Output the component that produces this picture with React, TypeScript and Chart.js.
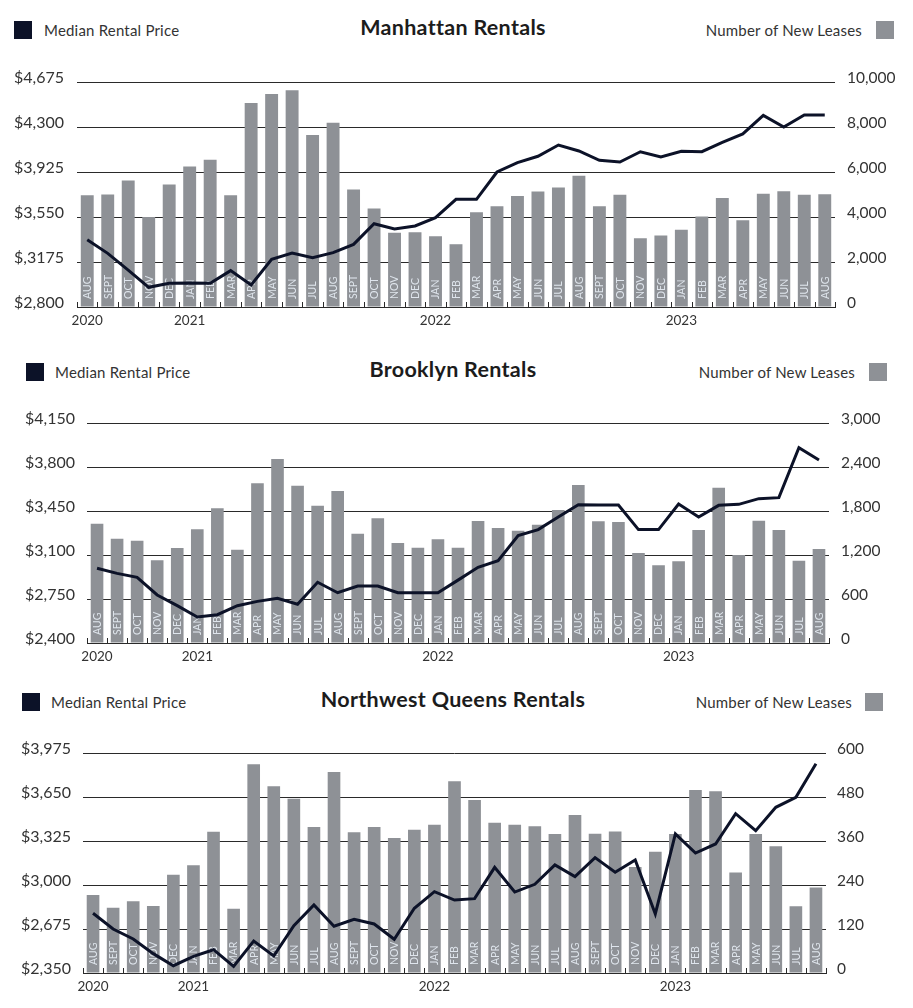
import React, { useEffect, useRef } from 'react';
import { Chart, registerables } from 'chart.js';

Chart.register(...registerables);

const FONT = 'Lato, "Noto Sans", sans-serif';
const BAR_COLOR = '#8e9196';
const LINE_COLOR = '#0c1228';
const GRID_COLOR = '#2a2a2a';
const TEXT_COLOR = '#333333';
const MONTH_COLOR = 'rgba(228,234,241,0.95)';
const PAGE_W = 913;

// ---------- shared categories ----------
const months = [
  'AUG', 'SEPT', 'OCT', 'NOV', 'DEC',
  'JAN', 'FEB', 'MAR', 'APR', 'MAY', 'JUN', 'JUL', 'AUG', 'SEPT', 'OCT', 'NOV', 'DEC',
  'JAN', 'FEB', 'MAR', 'APR', 'MAY', 'JUN', 'JUL', 'AUG', 'SEPT', 'OCT', 'NOV', 'DEC',
  'JAN', 'FEB', 'MAR', 'APR', 'MAY', 'JUN', 'JUL', 'AUG',
];
const yearTicks = ['2020', '2021', '2022', '2023'];
const yearTickIndex = [0, 5, 17, 29];

// ---------- Manhattan ----------
const manhattanLeases = [
  4970, 5000, 5620, 4000, 5450, 6250, 6540, 4970, 9070, 9470, 9630, 7640, 8190,
  5220, 4380, 3300, 3320, 3150, 2790, 4210, 4480, 4930, 5130, 5310, 5830, 4480,
  4990, 3060, 3180, 3430, 4020, 4850, 3860, 5030, 5150, 4990, 5010,
];
const manhattanPrice = [
  3360, 3247, 3108, 2964, 2997, 3000, 2997, 3103, 2983, 3197, 3250, 3211, 3253,
  3322, 3494, 3450, 3475, 3544, 3697, 3697, 3925, 4003, 4056, 4150, 4100, 4022,
  4008, 4094, 4050, 4097, 4094, 4172, 4242, 4397, 4300, 4400, 4400,
];
const manhattanPriceTicks = ['$2,800', '$,3175', '$3,550', '$3,925', '$4,300', '$4,675'];
const manhattanLeaseTicks = ['0', '2,000', '4,000', '6,000', '8,000', '10,000'];

// ---------- Brooklyn ----------
const brooklynLeases = [
  1627, 1423, 1395, 1127, 1295, 1550, 1836, 1273, 2177, 2509, 2145, 1873, 2073,
  1491, 1700, 1364, 1300, 1414, 1300, 1664, 1568, 1532, 1614, 1814, 2155, 1659,
  1650, 1227, 1059, 1114, 1541, 2118, 1200, 1668, 1541, 1123, 1282,
];
const brooklynPrice = [
  2994, 2954, 2922, 2782, 2697, 2607, 2625, 2697, 2731, 2755, 2708, 2883, 2800,
  2853, 2853, 2800, 2800, 2800, 2900, 3002, 3055, 3254, 3302, 3402, 3500, 3497,
  3497, 3302, 3302, 3505, 3402, 3495, 3503, 3548, 3556, 3954, 3856,
];
const brooklynPriceTicks = ['$2,400', '$2,750', '$3,100', '$3,450', '$3,800', '$4,150'];
const brooklynLeaseTicks = ['0', '600', '1,200', '1,800', '2,400', '3,000'];

// ---------- Northwest Queens ----------
const queensLeases = [
  213, 178, 196, 183, 268, 294, 385, 175, 569, 509, 475, 398, 548,
  384, 398, 368, 391, 404, 523, 472, 410, 404, 400, 379, 431, 380,
  386, 289, 331, 379, 499, 496, 274, 379, 346, 182, 233,
];
const queensPrice = [
  2791, 2675, 2601, 2493, 2404, 2473, 2522, 2399, 2586, 2476, 2700, 2852, 2695,
  2746, 2712, 2599, 2828, 2951, 2889, 2899, 3130, 2948, 3005, 3148, 3062, 3202,
  3094, 3185, 2786, 3377, 3236, 3303, 3527, 3401, 3574, 3648, 3896,
];
const queensPriceTicks = ['$2,350', '$2,675', '$3,000', '$3,325', '$3,650', '$3,975'];
const queensLeaseTicks = ['0', '120', '240', '360', '480', '600'];

type Cfg = {
  title: string;
  leases: number[];
  price: number[];
  priceMin: number;
  priceMax: number;
  priceStep: number;
  priceTicks: string[];
  leaseMax: number;
  leaseStep: number;
  leaseTicks: string[];
  canvasTop: number;
  canvasH: number;
  plotTop: number;
  plotBottom: number;
  plotLeft: number;
  plotRight: number;
  leftGap: number;
  rightGap: number;
  squareY: number;
  leftSquareX: number;
  leftTextX: number;
  rightTextEnd: number;
  rightSquareX: number;
};

const charts: Cfg[] = [
  {
    title: 'Manhattan Rentals',
    leases: manhattanLeases, price: manhattanPrice,
    priceMin: 2800, priceMax: 4675, priceStep: 375, priceTicks: manhattanPriceTicks,
    leaseMax: 10000, leaseStep: 2000, leaseTicks: manhattanLeaseTicks,
    canvasTop: 50, canvasH: 290, plotTop: 82, plotBottom: 307, plotLeft: 77, plotRight: 835,
    leftGap: 13, rightGap: 12,
    squareY: 21, leftSquareX: 14, leftTextX: 44, rightTextEnd: 862, rightSquareX: 876,
  },
  {
    title: 'Brooklyn Rentals',
    leases: brooklynLeases, price: brooklynPrice,
    priceMin: 2400, priceMax: 4150, priceStep: 350, priceTicks: brooklynPriceTicks,
    leaseMax: 3000, leaseStep: 600, leaseTicks: brooklynLeaseTicks,
    canvasTop: 395, canvasH: 275, plotTop: 423, plotBottom: 643, plotLeft: 87, plotRight: 829,
    leftGap: 12, rightGap: 12,
    squareY: 363, leftSquareX: 26, leftTextX: 55, rightTextEnd: 855, rightSquareX: 869,
  },
  {
    title: 'Northwest Queens Rentals',
    leases: queensLeases, price: queensPrice,
    priceMin: 2350, priceMax: 3975, priceStep: 325, priceTicks: queensPriceTicks,
    leaseMax: 600, leaseStep: 120, leaseTicks: queensLeaseTicks,
    canvasTop: 725, canvasH: 283, plotTop: 753, plotBottom: 973, plotLeft: 83, plotRight: 826,
    leftGap: 12, rightGap: 11,
    squareY: 693, leftSquareX: 22, leftTextX: 51, rightTextEnd: 852, rightSquareX: 865,
  },
];

function yearFor(i: number): string {
  const k = yearTickIndex.indexOf(i);
  return k >= 0 ? yearTicks[k] : '';
}

function ComboChart({ cfg }: { cfg: Cfg }) {
  const ref = useRef<HTMLCanvasElement>(null);

  useEffect(() => {
    if (!ref.current) return;

    const monthLabels = {
      id: 'monthLabels',
      afterDatasetDraw(chart: any, args: any) {
        if (args.index !== 0) return;
        const ctx = chart.ctx;
        const bottom = chart.chartArea.bottom;
        ctx.save();
        ctx.fillStyle = MONTH_COLOR;
        ctx.font = `10.5px ${FONT}`;
        ctx.textAlign = 'left';
        ctx.textBaseline = 'middle';
        args.meta.data.forEach((bar: any, i: number) => {
          ctx.save();
          ctx.translate(bar.x, bottom - 8);
          ctx.rotate(-Math.PI / 2);
          ctx.fillText(String(chart.data.labels[i]), 0, 0.5);
          ctx.restore();
        });
        ctx.restore();
      },
    };

    const upTicks = {
      id: 'upTicks',
      afterDraw(chart: any) {
        const xs = chart.scales.x;
        const n = chart.data.labels.length;
        const step = xs.getPixelForValue(1) - xs.getPixelForValue(0);
        const start = xs.getPixelForValue(0) - step / 2;
        const bottom = chart.chartArea.bottom;
        const ctx = chart.ctx;
        ctx.save();
        ctx.strokeStyle = GRID_COLOR;
        ctx.lineWidth = 1;
        ctx.beginPath();
        for (let i = 0; i <= n; i++) {
          const x = Math.round(start + i * step) + 0.5;
          ctx.moveTo(x, bottom);
          ctx.lineTo(x, bottom - 5);
        }
        ctx.stroke();
        ctx.restore();
      },
    };

    const chart = new Chart(ref.current, {
      type: 'bar',
      data: {
        labels: months,
        datasets: [
          {
            type: 'bar',
            label: 'Number of New Leases',
            data: cfg.leases,
            yAxisID: 'y1',
            backgroundColor: BAR_COLOR,
            borderWidth: 0,
            categoryPercentage: 1,
            barPercentage: 0.63,
            order: 1,
          },
          {
            type: 'line',
            label: 'Median Rental Price',
            data: cfg.price,
            yAxisID: 'y',
            borderColor: LINE_COLOR,
            backgroundColor: LINE_COLOR,
            borderWidth: 3,
            pointRadius: 0,
            tension: 0,
            order: 0,
          },
        ],
      } as any,
      options: {
        animation: false,
        responsive: true,
        maintainAspectRatio: false,
        layout: { padding: { top: cfg.plotTop - cfg.canvasTop, left: 0, right: 0, bottom: 0 } },
        plugins: {
          legend: { display: false },
          title: { display: false },
          tooltip: { enabled: false },
        },
        scales: {
          x: {
            type: 'category',
            offset: true,
            grid: { display: false, drawTicks: false },
            border: { display: true, color: GRID_COLOR, width: 1 },
            ticks: {
              autoSkip: false,
              maxRotation: 0,
              minRotation: 0,
              padding: 6,
              color: TEXT_COLOR,
              font: { family: FONT, size: 13.5 },
              callback: (_v: any, i: number) => yearFor(i),
            },
            afterFit: (s: any) => {
              s.height = cfg.canvasTop + cfg.canvasH - cfg.plotBottom;
            },
          },
          y: {
            position: 'left',
            min: cfg.priceMin,
            max: cfg.priceMax,
            z: 1,
            grid: { color: GRID_COLOR, lineWidth: 1, drawTicks: false },
            border: { display: false },
            ticks: {
              stepSize: cfg.priceStep,
              padding: cfg.leftGap,
              labelOffset: -4,
              color: TEXT_COLOR,
              font: { family: FONT, size: 16 },
              callback: (_v: any, i: number) => cfg.priceTicks[i],
            },
            afterFit: (s: any) => {
              s.width = cfg.plotLeft;
            },
          },
          y1: {
            position: 'right',
            min: 0,
            max: cfg.leaseMax,
            grid: { drawOnChartArea: false, drawTicks: false },
            border: { display: false },
            ticks: {
              stepSize: cfg.leaseStep,
              padding: cfg.rightGap,
              labelOffset: -4,
              color: TEXT_COLOR,
              font: { family: FONT, size: 15.5 },
              callback: (_v: any, i: number) => cfg.leaseTicks[i],
            },
            afterFit: (s: any) => {
              s.width = PAGE_W - cfg.plotRight;
            },
          },
        },
      } as any,
      plugins: [monthLabels, upTicks],
    });

    return () => chart.destroy();
  }, [cfg]);

  const sqCenter = cfg.squareY + 9;

  return (
    <>
      <div style={{ position: 'absolute', left: cfg.leftSquareX, top: cfg.squareY, width: 18, height: 18, background: LINE_COLOR }} />
      <div
        style={{
          position: 'absolute', left: cfg.leftTextX, top: sqCenter - 10.5, lineHeight: '20px',
          fontFamily: FONT, fontSize: 15, letterSpacing: 0.2, color: TEXT_COLOR, whiteSpace: 'nowrap',
        }}
      >
        Median Rental Price
      </div>
      <div
        style={{
          position: 'absolute', left: 153, width: 600, top: sqCenter - 3.5 - 13, lineHeight: '26px',
          fontFamily: FONT, fontSize: 21.5, fontWeight: 700, letterSpacing: 0.3, color: '#1c1c1c', textAlign: 'center', whiteSpace: 'nowrap',
        }}
      >
        {cfg.title}
      </div>
      <div
        style={{
          position: 'absolute', right: PAGE_W - cfg.rightTextEnd, top: sqCenter - 10.5, lineHeight: '20px',
          fontFamily: FONT, fontSize: 15, letterSpacing: 0.2, color: TEXT_COLOR, whiteSpace: 'nowrap', textAlign: 'right',
        }}
      >
        Number of New Leases
      </div>
      <div style={{ position: 'absolute', left: cfg.rightSquareX, top: cfg.squareY, width: 18, height: 18, background: BAR_COLOR }} />
      <div style={{ position: 'absolute', left: 0, top: cfg.canvasTop, width: PAGE_W, height: cfg.canvasH }}>
        <canvas ref={ref} />
      </div>
    </>
  );
}

export default function App() {
  return (
    <div style={{ position: 'absolute', left: 0, top: 0, width: PAGE_W, height: 1008, background: '#ffffff', overflow: 'hidden' }}>
      {charts.map((c) => (
        <ComboChart key={c.title} cfg={c} />
      ))}
    </div>
  );
}
